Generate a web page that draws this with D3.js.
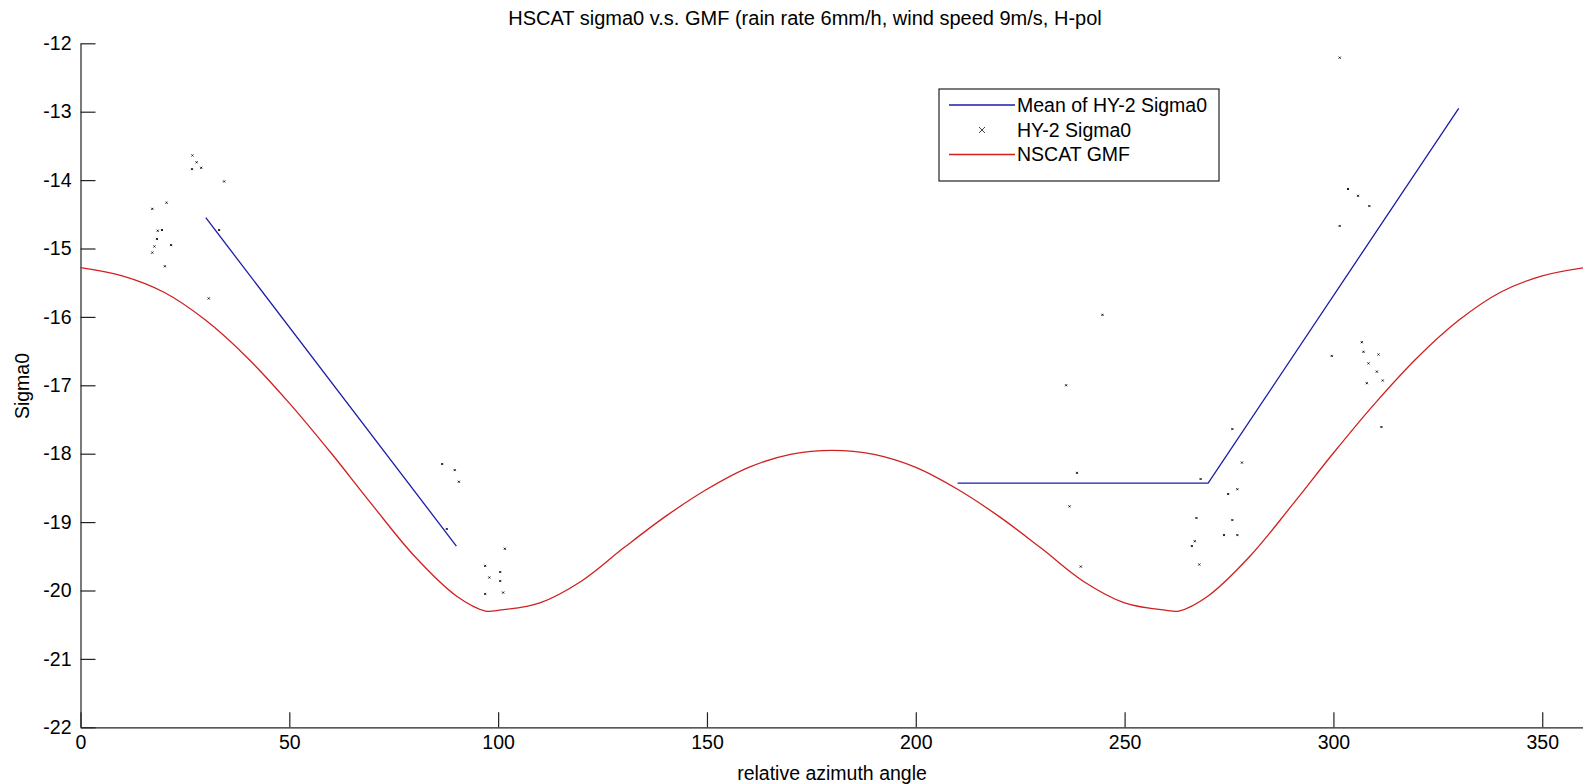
<!DOCTYPE html>
<html>
<head>
<meta charset="utf-8">
<script src="https://cdn.jsdelivr.net/npm/d3@7"></script>
<style>
  body { margin: 0; background: #fff; }
  text { font-family: "Liberation Sans", Arial, sans-serif; fill: #000; }
</style>
</head>
<body>
<svg id="chart"></svg>
<script>
// NSCAT GMF curve
var gmfAngle = [0, 10, 20, 30, 40, 50, 60, 70, 80, 90, 97, 100, 110, 120, 130, 140, 150, 160, 170, 180,
                190, 200, 210, 220, 230, 240, 250, 260, 263, 270, 280, 290, 300, 310, 320, 330, 340, 350, 360];
var gmfSigma0 = [-15.28, -15.40, -15.64, -16.05, -16.60, -17.26, -17.99, -18.76, -19.50, -20.08, -20.30, -20.29, -20.18, -19.86, -19.38, -18.92, -18.52, -18.20, -18.01, -17.95,
                 -18.01, -18.20, -18.52, -18.92, -19.38, -19.86, -20.18, -20.29, -20.30, -20.08, -19.50, -18.76, -17.99, -17.26, -16.60, -16.05, -15.64, -15.40, -15.28];

// mean of HY-2 sigma0 per 60 degree bin (no data at 150)
var meanAngle = [30, 90, 150, 210, 270, 330];
var meanSigma0 = [-14.55, -19.35, null, -18.43, -18.43, -12.95];

// HY-2 sigma0 samples
var hy2Angle = [26.8, 27.8, 26.7, 28.9, 34.4, 20.6, 17.2, 33.2, 18.5, 19.5, 18.3, 21.7, 17.7, 17.2, 20.2, 30.7,
                86.6, 89.6, 90.6, 87.7, 101.6, 96.9, 100.5, 97.9, 100.5, 96.9, 101.2,
                244.7, 236.0, 238.6, 236.8, 267.2, 266.8, 266.1, 267.9, 239.5,
                275.8, 278.1, 268.2, 274.8, 277.0, 275.8, 273.8, 277.0,
                306.8, 307.2, 299.6, 310.8, 308.4, 310.4, 308.0, 311.8, 311.5,
                303.5, 305.9, 308.6, 301.5, 301.5];
var hy2Sigma0 = [-13.64, -13.74, -13.84, -13.82, -14.02, -14.33, -14.42, -14.73, -14.74, -14.73, -14.86, -14.95, -14.97, -15.06, -15.26, -15.73,
                 -18.15, -18.24, -18.41, -19.10, -19.39, -19.64, -19.73, -19.81, -19.86, -20.05, -20.03,
                 -15.97, -17.00, -18.28, -18.77, -18.94, -19.28, -19.35, -19.62, -19.65,
                 -17.64, -18.13, -18.37, -18.59, -18.52, -18.97, -19.19, -19.19,
                 -16.37, -16.51, -16.57, -16.55, -16.68, -16.80, -16.97, -16.93, -17.61,
                 -14.13, -14.23, -14.38, -14.67, -12.21];

var xTicks = [0, 50, 100, 150, 200, 250, 300, 350];
var yTicks = [-22, -21, -20, -19, -18, -17, -16, -15, -14, -13, -12];

var legendLabels = ["Mean of HY-2 Sigma0", "HY-2 Sigma0", "NSCAT GMF"];

var chartTitle = "HSCAT sigma0 v.s. GMF (rain rate 6mm/h, wind speed 9m/s, H-pol";

var width = 1583;
var height = 784;
var margin = { top: 43.3, right: -1, bottom: 56.7, left: 80.5 };
var plotW = width - margin.left - margin.right;
var plotH = height - margin.top - margin.bottom;
var fontSize = "19.5px";
var blue = "#1c1ca8";
var red = "#d02020";

var svg = d3.select("#chart")
    .attr("width", width)
    .attr("height", height);

svg.append("rect")
    .attr("width", width)
    .attr("height", height)
    .attr("fill", "#fff");

var g = svg.append("g")
    .attr("transform", "translate(" + margin.left + "," + margin.top + ")");

var xScale = d3.scaleLinear().domain([0, 360]).range([0, plotW]);
var yScale = d3.scaleLinear().domain([-22, -12]).range([plotH, 0]);

// axes, MATLAB style ticks pointing inwards, plain hyphen for minus
var xAxis = d3.axisBottom(xScale)
    .tickValues(xTicks)
    .tickFormat(function(d) { return String(d); })
    .tickSizeInner(-15)
    .tickSizeOuter(0)
    .tickPadding(8);

var yAxis = d3.axisLeft(yScale)
    .tickValues(yTicks)
    .tickFormat(function(d) { return String(d); })
    .tickSizeInner(-15)
    .tickSizeOuter(0)
    .tickPadding(9);

g.append("g")
    .attr("class", "x_axis")
    .attr("transform", "translate(0," + plotH + ")")
    .call(xAxis);

g.append("g")
    .attr("class", "y_axis")
    .call(yAxis);

g.selectAll(".x_axis, .y_axis").selectAll("path, line")
    .attr("stroke", "#222")
    .attr("stroke-width", 1.2);
g.selectAll(".x_axis text, .y_axis text")
    .attr("font-size", fontSize)
    .attr("font-family", "Liberation Sans, Arial, sans-serif")
    .attr("fill", "#111");

// GMF curve
var gmfData = gmfAngle.map(function(a, i) { return { x: a, y: gmfSigma0[i] }; });
var line = d3.line()
    .x(function(d) { return xScale(d.x); })
    .y(function(d) { return yScale(d.y); })
    .curve(d3.curveCatmullRom.alpha(0.5));

g.append("path")
    .datum(gmfData)
    .attr("d", line)
    .attr("fill", "none")
    .attr("stroke", red)
    .attr("stroke-width", 1.3);

// mean line (straight segments, gap where the bin is empty)
var meanData = meanAngle.map(function(a, i) { return { x: a, y: meanSigma0[i] }; });
var meanLine = d3.line()
    .defined(function(d) { return d.y != null; })
    .x(function(d) { return xScale(d.x); })
    .y(function(d) { return yScale(d.y); });

g.append("path")
    .datum(meanData)
    .attr("d", meanLine)
    .attr("fill", "none")
    .attr("stroke", blue)
    .attr("stroke-width", 1.3);

// scatter samples as tiny x markers
var hy2Data = hy2Angle.map(function(a, i) { return { x: a, y: hy2Sigma0[i] }; });
g.selectAll(".hy2")
    .data(hy2Data)
    .enter()
    .append("path")
    .attr("class", "hy2")
    .attr("transform", function(d) { return "translate(" + xScale(d.x) + "," + yScale(d.y) + ")"; })
    .attr("d", "M-1,-1L1,1M-1,1L1,-1")
    .attr("stroke", "#111")
    .attr("stroke-width", 1);

// title
svg.append("text")
    .attr("x", 805)
    .attr("y", 25)
    .attr("text-anchor", "middle")
    .attr("font-size", "20px")
    .text(chartTitle);

// axis labels
svg.append("text")
    .attr("x", 832)
    .attr("y", 780)
    .attr("text-anchor", "middle")
    .attr("font-size", fontSize)
    .text("relative azimuth angle");

svg.append("text")
    .attr("transform", "translate(29,386) rotate(-90)")
    .attr("text-anchor", "middle")
    .attr("font-size", fontSize)
    .text("Sigma0");

// legend
var legend = svg.append("g").attr("class", "legend");
legend.append("rect")
    .attr("x", 939)
    .attr("y", 89)
    .attr("width", 280)
    .attr("height", 92)
    .attr("fill", "#fff")
    .attr("stroke", "#222")
    .attr("stroke-width", 1.2);

var legendY = [105, 130, 154.5];
legend.append("line")
    .attr("x1", 949).attr("x2", 1015)
    .attr("y1", legendY[0]).attr("y2", legendY[0])
    .attr("stroke", blue).attr("stroke-width", 1.3);
legend.append("path")
    .attr("transform", "translate(982," + legendY[1] + ")")
    .attr("d", "M-3,-3L3,3M-3,3L3,-3")
    .attr("stroke", "#444")
    .attr("stroke-width", 1);
legend.append("line")
    .attr("x1", 949).attr("x2", 1015)
    .attr("y1", legendY[2]).attr("y2", legendY[2])
    .attr("stroke", red).attr("stroke-width", 1.3);

legend.selectAll(".legend_label")
    .data(legendLabels)
    .enter()
    .append("text")
    .attr("class", "legend_label")
    .attr("x", 1017)
    .attr("y", function(d, i) { return legendY[i]; })
    .attr("dy", "0.35em")
    .attr("font-size", fontSize)
    .text(function(d) { return d; });
</script>
</body>
</html>
